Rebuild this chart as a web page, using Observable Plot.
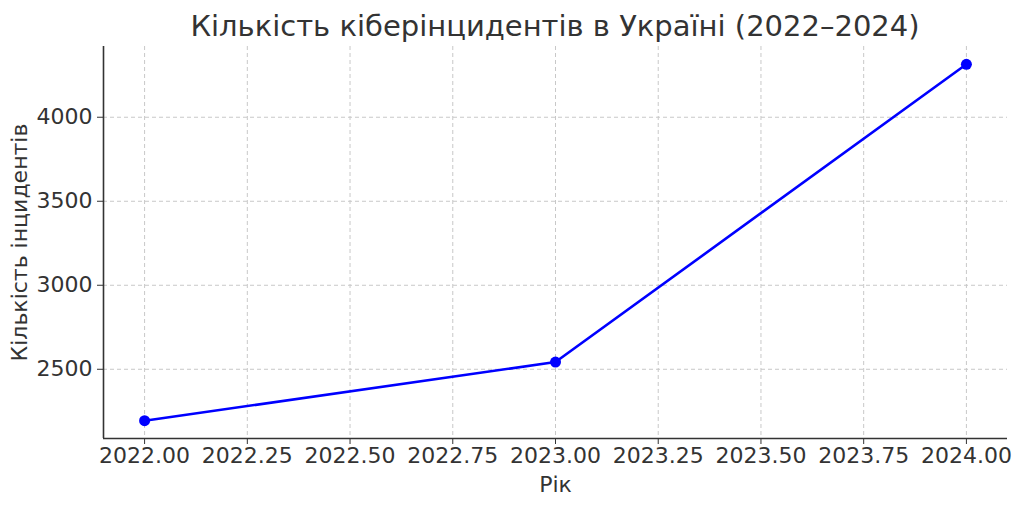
<!DOCTYPE html>
<html>
<head>
<meta charset="utf-8">
<script src="https://cdn.jsdelivr.net/npm/d3@7"></script>
<script src="https://cdn.jsdelivr.net/npm/@observablehq/plot@0.6"></script>
<style>
  html, body { margin: 0; padding: 0; background: #fff; }
  #wrap { width: 1024px; height: 508px; overflow: hidden; font-family: "DejaVu Sans", sans-serif; }
  #title { height: 36px; padding-top: 10px; line-height: 32px; font-size: 29px; text-align: center; color: #333; padding-left: 86px; box-sizing: content-box; white-space: nowrap; }
  svg { display: block; }
</style>
</head>
<body>
<div id="wrap">
  <div id="title">Кількість кіберінцидентів в Україні (2022–2024)</div>
  <div id="chart"></div>
</div>
<script>
const years = [2022, 2023, 2024];
const incidents = [2194, 2543, 4315];
const xTicks = [2022, 2022.25, 2022.5, 2022.75, 2023, 2023.25, 2023.5, 2023.75, 2024];
const yTicks = [2500, 3000, 3500, 4000];
const titleText = "Кількість кіберінцидентів в Україні (2022–2024)";
const xLabel = "Рік";
const yLabel = "Кількість інцидентів";

const data = years.map((y, i) => ({year: y, value: incidents[i]}));

const xMin = d3.min(years), xMax = d3.max(years);
const xPad = (xMax - xMin) * 0.05;
const yMin = d3.min(incidents), yMax = d3.max(incidents);
const yPad = (yMax - yMin) * 0.05;
const xDomain = [xMin - xPad, xMax + xPad];
const yDomain = [yMin - yPad, yMax + yPad];

const chart = Plot.plot({
  width: 1024,
  height: 462,
  marginLeft: 103,
  marginRight: 17,
  marginTop: 0,
  marginBottom: 70,
  style: {fontFamily: "DejaVu Sans, sans-serif", fontSize: "22px", color: "#333", background: "#fff"},
  x: {domain: xDomain},
  y: {domain: yDomain},
  marks: [
    Plot.gridX(xTicks, {stroke: "#c8c8c8", strokeOpacity: 1, strokeDasharray: "4,3"}),
    Plot.gridY(yTicks, {stroke: "#c8c8c8", strokeOpacity: 1, strokeDasharray: "4,3"}),
    Plot.axisX(xTicks, {tickFormat: d3.format(".2f"), tickSize: 6, tickPadding: 3, stroke: "#333", fill: "#333", fontSize: 22, label: xLabel, labelAnchor: "center", labelArrow: "none", labelOffset: 53}),
    Plot.axisY(yTicks, {tickFormat: d => String(d), tickSize: 6, tickPadding: 5, stroke: "#333", fill: "#333", fontSize: 22, label: yLabel, labelAnchor: "center", labelArrow: "none", labelOffset: 92}),
    Plot.ruleX([xDomain[0]], {stroke: "#333", strokeWidth: 1.6}),
    Plot.ruleY([yDomain[0]], {stroke: "#333", strokeWidth: 1.6}),
    Plot.line(data, {x: "year", y: "value", stroke: "#0000ff", strokeWidth: 2.6}),
    Plot.dot(data, {x: "year", y: "value", fill: "#0000ff", r: 5.5})
  ]
});
document.getElementById("chart").appendChild(chart);
</script>
</body>
</html>
